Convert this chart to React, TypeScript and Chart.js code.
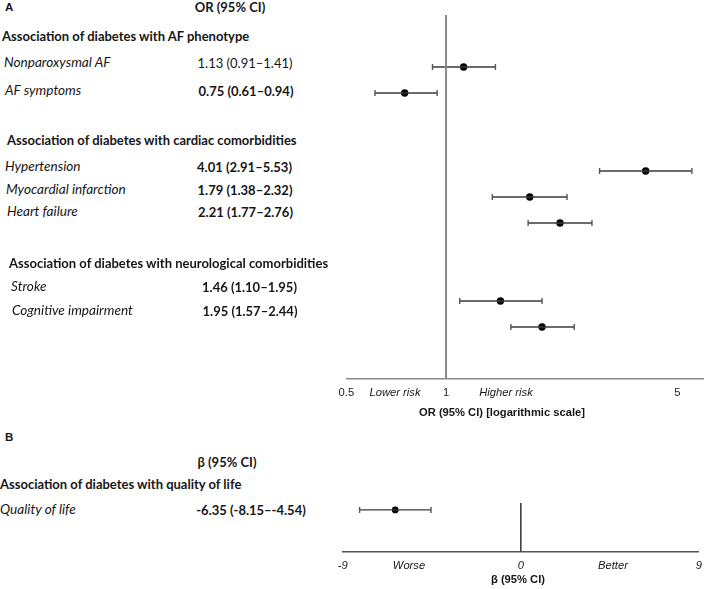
import React, { useEffect, useRef } from "react";
import { Chart, registerables } from "chart.js";

Chart.register(...registerables);

// ---------- Data ----------
const orLabels = [
  "Nonparoxysmal AF",
  "AF symptoms",
  "Hypertension",
  "Myocardial infarction",
  "Heart failure",
  "Stroke",
  "Cognitive impairment",
];
const orValues = [1.13, 0.75, 4.01, 1.79, 2.21, 1.46, 1.95];
const orLower = [0.91, 0.61, 2.91, 1.38, 1.77, 1.1, 1.57];
const orUpper = [1.41, 0.94, 5.53, 2.32, 2.76, 1.95, 2.44];
const orRows = [2, 3, 6, 7, 8, 11, 12];
const orTicks = [0.5, 1, 5];
const orGroups = [
  "Association of diabetes with AF phenotype",
  "Association of diabetes with cardiac comorbidities",
  "Association of diabetes with neurological comorbidities",
];

const betaLabels = ["Quality of life"];
const betaValues = [-6.35];
const betaLower = [-8.15];
const betaUpper = [-4.54];
const betaRows = [1];
const betaTicks = [-9, 0, 9];
const betaGroups = ["Association of diabetes with quality of life"];

// ---------- Layout (pixels) ----------
const LEFT_FONT = "Lato, 'Noto Sans', sans-serif";
const AXIS_FONT = "'Liberation Sans', Arial, sans-serif";
const AXIS_SIZE = 11.2;

const orLabelPos = [
  [4, 63],
  [5, 91],
  [5, 167],
  [6, 190],
  [7, 212],
  [11, 287],
  [12, 311],
];
const orValueCx = [245, 246, 244.5, 245, 245.5, 249.5, 250];
const orGroupPos = [
  [2, 36],
  [7, 140],
  [9, 263],
];

const fmt = (v: number) => v.toFixed(2);

function Txt(props: {
  x: number;
  y: number;
  text: string;
  size?: number;
  bold?: boolean;
  italic?: boolean;
  font?: string;
  align?: "left" | "center" | "right";
}) {
  const { x, y, text, size = 13, bold, italic, font = LEFT_FONT, align = "left" } = props;
  const tx = align === "center" ? "-50%" : align === "right" ? "-100%" : "0";
  return (
    <div
      style={{
        position: "absolute",
        left: x,
        top: y,
        transform: `translate(${tx}, -50%)`,
        whiteSpace: "nowrap",
        fontFamily: font,
        fontSize: size,
        fontWeight: bold ? 700 : 400,
        fontStyle: italic ? "italic" : "normal",
        lineHeight: 1,
        color: "#161616",
      }}
    >
      {text}
    </div>
  );
}

function ciDatasets(lo: number[], hi: number[], rows: number[]) {
  return rows.map((r, i) => ({
    type: "scatter" as const,
    showLine: true,
    data: [
      { x: lo[i], y: r },
      { x: hi[i], y: r },
    ],
    borderColor: "#3a3a3a",
    borderWidth: 1.3,
    pointStyle: "line" as const,
    rotation: 90,
    pointRotation: 90,
    pointRadius: 3,
    pointBorderColor: "#555",
    pointBorderWidth: 1.4,
    pointBackgroundColor: "#555",
  }));
}

export default function App() {
  const refA = useRef<HTMLCanvasElement>(null);
  const refB = useRef<HTMLCanvasElement>(null);

  useEffect(() => {
    const chartA = new Chart(refA.current!, {
      type: "scatter",
      data: {
        datasets: [
          {
            showLine: true,
            data: [
              { x: 1, y: -0.05 },
              { x: 1, y: 14 },
            ],
            borderColor: "#8a8a8a",
            borderWidth: 2,
            pointRadius: 0,
          },
          ...ciDatasets(orLower, orUpper, orRows),
          {
            data: orRows.map((r, i) => ({ x: orValues[i], y: r })),
            pointRadius: 3.7,
            backgroundColor: "#000",
            borderColor: "#000",
            borderWidth: 0,
          },
        ] as any,
      },
      options: {
        animation: false,
        responsive: false,
        devicePixelRatio: 1,
        layout: { padding: { left: 26.4, right: 0, top: 15, bottom: 0 } },
        plugins: { legend: { display: false }, tooltip: { enabled: false } },
        scales: {
          x: {
            type: "logarithmic",
            min: 0.5,
            max: 6,
            afterBuildTicks: (s: any) => {
              s.ticks = orTicks.map((v) => ({ value: v }));
            },
            afterFit: (s: any) => {
              s.height = 21;
            },
            ticks: {
              callback: (v: any) => String(v),
              font: { family: AXIS_FONT, size: AXIS_SIZE },
              color: "#222",
              padding: 7,
              autoSkip: false,
              maxRotation: 0,
            },
            grid: { display: false, drawTicks: false },
            border: { display: true, color: "#8a8a8a", width: 1.5 },
          },
          y: { type: "linear", min: 0, max: 14, reverse: true, display: false },
        },
      } as any,
    });

    const chartB = new Chart(refB.current!, {
      type: "scatter",
      data: {
        datasets: [
          {
            showLine: true,
            data: [
              { x: 0, y: 0 },
              { x: 0, y: 7 },
            ],
            borderColor: "#333",
            borderWidth: 1.5,
            pointRadius: 0,
          },
          ...ciDatasets(betaLower, betaUpper, betaRows),
          {
            data: betaRows.map((r, i) => ({ x: betaValues[i], y: r })),
            pointRadius: 3.4,
            backgroundColor: "#000",
            borderColor: "#000",
            borderWidth: 0,
          },
        ] as any,
      },
      options: {
        animation: false,
        responsive: false,
        devicePixelRatio: 1,
        layout: { padding: { left: 22.8, right: 7.2, top: 13, bottom: 16.3 } },
        plugins: { legend: { display: false }, tooltip: { enabled: false } },
        scales: {
          x: {
            type: "linear",
            min: -9,
            max: 9,
            afterBuildTicks: (s: any) => {
              s.ticks = betaTicks.map((v) => ({ value: v }));
            },
            afterFit: (s: any) => {
              s.height = 21;
            },
            ticks: {
              callback: (v: any) => String(v),
              font: { family: AXIS_FONT, size: AXIS_SIZE, style: "italic" },
              color: "#222",
              padding: 7,
              autoSkip: false,
              maxRotation: 0,
            },
            grid: { display: false, drawTicks: false },
            border: { display: true, color: "#555", width: 1.5 },
          },
          y: { type: "linear", min: 0, max: 7, reverse: true, display: false },
        },
      } as any,
    });

    return () => {
      chartA.destroy();
      chartB.destroy();
    };
  }, []);

  return (
    <div
      style={{
        position: "absolute",
        left: 0,
        top: 0,
        width: 709,
        height: 589,
        background: "#fff",
        overflow: "hidden",
      }}
    >
      <canvas
        ref={refA}
        width={389}
        height={400}
        style={{ position: "absolute", left: 320, top: 0, width: 389, height: 400 }}
      />
      <canvas
        ref={refB}
        width={389}
        height={99}
        style={{ position: "absolute", left: 320, top: 490, width: 389, height: 99 }}
      />

      {/* Panel A */}
      <Txt x={5} y={8} text="A" bold size={11.5} font={AXIS_FONT} />
      <Txt x={230} y={7} text="OR (95% CI)" bold align="center" />
      {orGroups.map((g, i) => (
        <Txt key={g} x={orGroupPos[i][0]} y={orGroupPos[i][1]} text={g} bold />
      ))}
      {orLabels.map((l, i) => (
        <Txt key={l} x={orLabelPos[i][0]} y={orLabelPos[i][1]} text={l} italic size={13.6} />
      ))}
      {orLabels.map((l, i) => (
        <Txt
          key={l + "v"}
          x={orValueCx[i]}
          y={orLabelPos[i][1]}
          text={`${fmt(orValues[i])} (${fmt(orLower[i])}–${fmt(orUpper[i])})`}
          bold={orLower[i] > 1 || orUpper[i] < 1}
          align="center"
        />
      ))}
      <Txt x={395} y={393} text="Lower risk" italic size={AXIS_SIZE} font={AXIS_FONT} align="center" />
      <Txt x={506} y={393} text="Higher risk" italic size={AXIS_SIZE} font={AXIS_FONT} align="center" />
      <Txt
        x={502}
        y={413}
        text="OR (95% CI) [logarithmic scale]"
        bold
        size={AXIS_SIZE}
        font={AXIS_FONT}
        align="center"
      />

      {/* Panel B */}
      <Txt x={5} y={438} text="B" bold size={11.5} font={AXIS_FONT} />
      <Txt x={227} y={462} text="β (95% CI)" bold align="center" />
      {betaGroups.map((g) => (
        <Txt key={g} x={0} y={484} text={g} bold />
      ))}
      {betaLabels.map((l) => (
        <Txt key={l} x={0} y={510} text={l} italic size={13.6} />
      ))}
      {betaLabels.map((l, i) => (
        <Txt
          key={l + "v"}
          x={251}
          y={510}
          text={`${fmt(betaValues[i])} (${fmt(betaLower[i])}–${fmt(betaUpper[i])})`}
          bold={betaLower[i] > 0 || betaUpper[i] < 0}
          align="center"
        />
      ))}
      <Txt x={409} y={566} text="Worse" italic size={AXIS_SIZE} font={AXIS_FONT} align="center" />
      <Txt x={613} y={566} text="Better" italic size={AXIS_SIZE} font={AXIS_FONT} align="center" />
      <Txt x={518} y={580} text="β (95% CI)" bold size={AXIS_SIZE} font={AXIS_FONT} align="center" />
    </div>
  );
}
